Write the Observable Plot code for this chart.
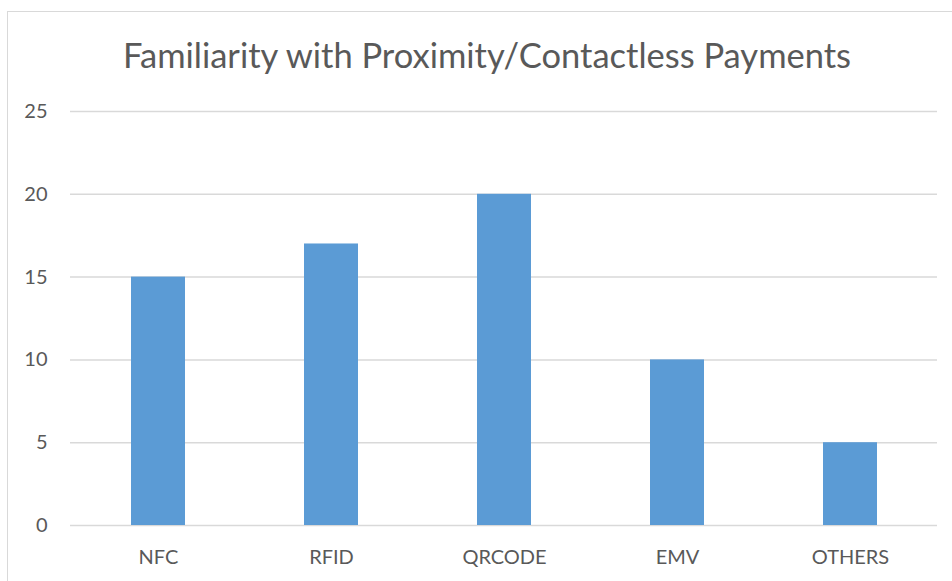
<!DOCTYPE html>
<html>
<head>
<meta charset="utf-8">
<script src="https://cdn.jsdelivr.net/npm/d3@7"></script>
<script src="https://cdn.jsdelivr.net/npm/@observablehq/plot@0.6"></script>
<style>
  html, body { margin: 0; padding: 0; background: #fff; }
  #wrap { position: relative; width: 952px; height: 581px; overflow: hidden; font-family: Lato, "Open Sans", sans-serif; }
  #frame { position: absolute; left: 7px; top: 11px; width: 960px; height: 600px; border: 1.5px solid #d9d9d9; box-sizing: border-box; }
  #title { position: absolute; left: 0; width: 974px; top: 34px; text-align: center; font-size: 34.5px; color: #595959; font-weight: 400; white-space: nowrap; }
  #chart { position: absolute; left: 0; top: 0; }
</style>
</head>
<body>
<div id="wrap">
  <div id="frame"></div>
  <div id="title">Familiarity with Proximity/Contactless Payments</div>
  <div id="chart"></div>
</div>
<script>
const categories = ["NFC", "RFID", "QRCODE", "EMV", "OTHERS"];
const values = [15, 17, 20, 10, 5];
const yTicks = [0, 5, 10, 15, 20, 25];

const data = categories.map((c, i) => ({category: c, value: values[i]}));

const chart = Plot.plot({
  width: 952,
  height: 581,
  marginTop: 111,
  marginBottom: 56,
  marginLeft: 70,
  marginRight: 15,
  style: {fontFamily: "Lato, 'Open Sans', sans-serif", fontSize: "20px", color: "#595959", background: "transparent"},
  x: {domain: categories, paddingInner: 0.69, paddingOuter: 0.345, label: null},
  y: {domain: [0, 25], ticks: yTicks, label: null},
  marks: [
    Plot.ruleY(yTicks, {stroke: "#d9d9d9", strokeWidth: 1.5}),
    Plot.barY(data, {x: "category", y: "value", fill: "#5B9BD5"}),
    Plot.axisY({ticks: yTicks, tickSize: 0, tickPadding: 23, label: null, fontSize: 20}),
    Plot.axisX({tickSize: 0, tickPadding: 24, label: null, fontSize: 20})
  ]
});
document.getElementById("chart").appendChild(chart);
</script>
</body>
</html>
